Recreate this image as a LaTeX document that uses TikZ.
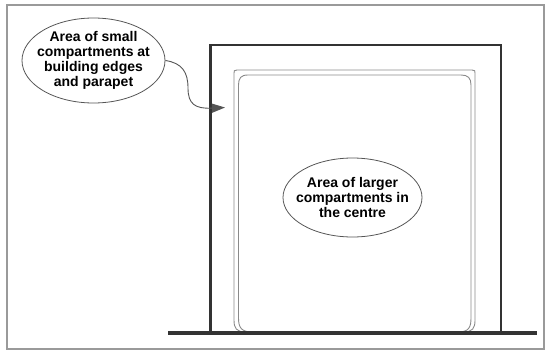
\documentclass[tikz,border=0pt]{standalone}
\usepackage{fontspec}
\setmainfont{Liberation Sans}
\usetikzlibrary{shapes.geometric,arrows.meta}
\definecolor{wallc}{HTML}{333333}
\definecolor{thinc}{HTML}{8A8A8A}
\definecolor{framec}{HTML}{9A9A9A}
\definecolor{ellc}{HTML}{555555}
\tikzset{
  lbl/.style={ellipse, draw=ellc, line width=0.8pt, align=center, inner ysep=0pt,
    font=\fontsize{14}{15}\selectfont\bfseries},
  wall/.style={draw=wallc, line width=2.6pt},
  ground/.style={draw=wallc, line width=4pt},
  thinwall/.style={draw=thinc, line width=0.9pt},
  conn/.style={draw=ellc, line width=0.9pt, -{Triangle[length=13pt,width=9pt]}}
}
\begin{document}
\begin{tikzpicture}[x=1pt,y=-1pt]
\useasboundingbox (0,0) rectangle (551,351);
% outer frame
\draw[framec, line width=1.2pt] (7,5) rectangle (544,349);
% building walls
\draw[wall] (210.5,333) -- (210.5,45) -- (501,45) -- (501,333);
% thin outer line
\draw[thinwall] (246,332) .. controls (236,332) and (234,328) .. (234,320)
  -- (234,73) .. controls (234,70.5) .. (237,70) -- (472,70)
  .. controls (475,70.5) .. (475,73) -- (475,320)
  .. controls (475,328) and (473,332) .. (463,332);
% thin inner rounded line
\draw[thinwall] (252,332) .. controls (241,332) and (238.5,327) .. (238.5,318)
  -- (238.5,85) .. controls (238.5,78) and (241,75) .. (248,75) -- (461,75)
  .. controls (468,75) and (471,78) .. (471,85) -- (471,318)
  .. controls (471,327) and (469,332) .. (458,332);
% ground
\draw[ground] (168,333) -- (537,333);
% labels
\node[lbl, inner xsep=-10pt, minimum width=143pt, minimum height=85pt] (e1) at (93.5,60.5)
  {Area of small\\compartments at\\building edges\\and parapet};
\node[lbl, inner xsep=-11pt, minimum width=139pt, minimum height=79pt] (e2) at (352.5,197.5)
  {Area of larger\\compartments in\\the centre};
% connector
\coordinate (tip) at (225,107.5);
\draw[conn] (e1.east) .. controls (182,63) and (188,72) .. (188,88)
  .. controls (188,104) and (195,109) .. (tip);
\end{tikzpicture}
\end{document}
